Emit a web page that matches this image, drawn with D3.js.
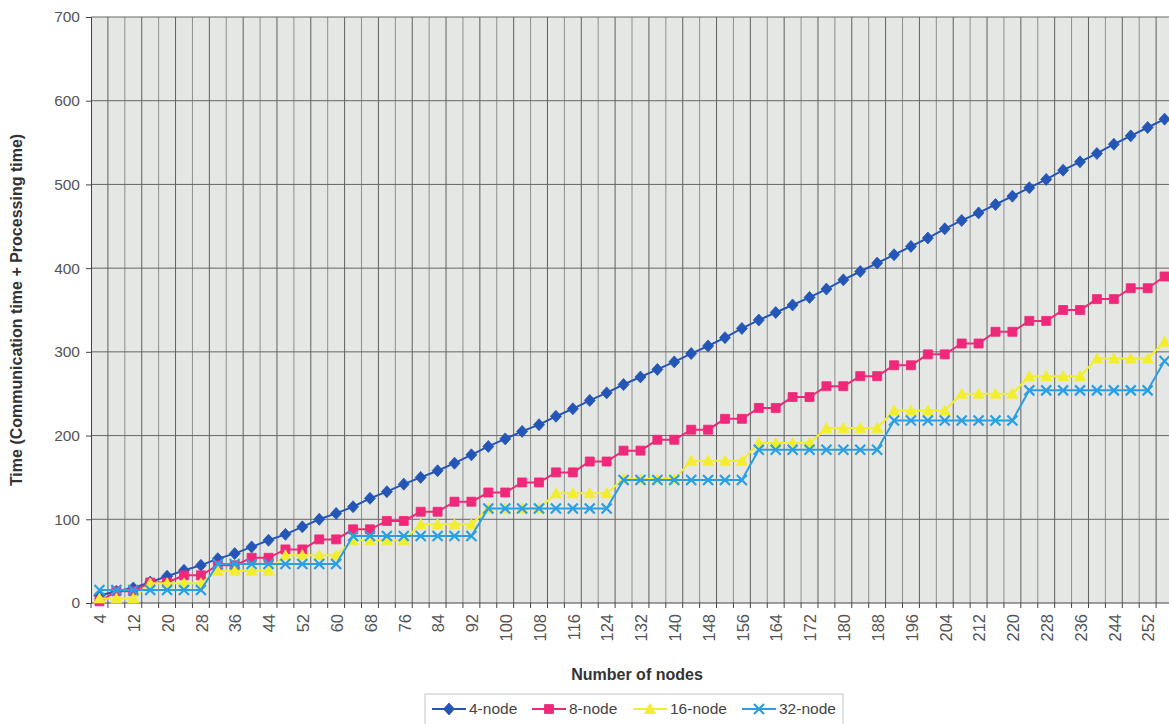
<!DOCTYPE html>
<html>
<head>
<meta charset="utf-8">
<script src="https://cdn.jsdelivr.net/npm/d3@7"></script>
<style>
  body { margin: 0; background: #fff; }
  svg { display: block; font-family: "Liberation Sans", Arial, sans-serif; }
</style>
</head>
<body>
<div id="chart"></div>
<script>
// Categories: number of nodes
const nodeCounts = d3.range(4, 257, 4);
const yTicks = [0, 100, 200, 300, 400, 500, 600, 700];

// Series values (one value per node count)
const node4 = [9, 14, 18, 25, 32, 39, 45, 53, 59, 67, 75, 82, 91, 100, 107, 115,
  125, 133, 142, 150, 158, 167, 177, 187, 196, 205, 213, 223, 232, 242, 251, 261,
  270, 279, 288, 298, 307, 317, 328, 338, 347, 356, 365, 375, 386, 396, 406, 416,
  426, 436, 447, 457, 466, 476, 486, 496, 506, 517, 527, 537, 548, 558, 568, 578];
const node8 = [2, 14, 14, 24.5, 24.5, 33, 33, 45, 45, 54, 54, 64, 64, 76, 76, 88,
  88, 98, 98, 109, 109, 121, 121, 132, 132, 144, 144, 156, 156, 169, 169, 182,
  182, 195, 195, 207, 207, 220, 220, 233, 233, 246, 246, 259, 259, 271, 271, 284,
  284, 297, 297, 310, 310, 324, 324, 337, 337, 350, 350, 363, 363, 376, 376, 390];
const node16 = [5.5, 5.5, 5.5, 23.5, 23.5, 23.5, 23.5, 38.5, 38.5, 38.5, 38.5, 57, 57, 57, 57, 75,
  75, 75, 75, 94, 94, 94, 94, 113, 113, 113, 113, 131, 131, 131, 131, 148,
  148, 148, 148, 170, 170, 170, 170, 191, 191, 191, 191, 209, 209, 209, 209, 230,
  230, 230, 230, 250, 250, 250, 250, 271, 271, 271, 271, 292, 292, 292, 292, 312];
const node32 = [15.5, 15.5, 15.5, 15.5, 15.5, 15.5, 15.5, 46.5, 46.5, 46.5, 46.5, 46.5, 46.5, 46.5, 46.5, 80,
  80, 80, 80, 80, 80, 80, 80, 113, 113, 113, 113, 113, 113, 113, 113, 147,
  147, 147, 147, 147, 147, 147, 147, 183, 183, 183, 183, 183, 183, 183, 183, 218,
  218, 218, 218, 218, 218, 218, 218, 254, 254, 254, 254, 254, 254, 254, 254, 289];

const seriesNames = ["4-node", "8-node", "16-node", "32-node"];
const seriesValues = [node4, node8, node16, node32];
const seriesColors = ["#2456b8", "#f0287a", "#f2ee2e", "#2a9fe4"];
const seriesMarkers = ["diamond", "square", "triangle", "cross"];

const W = 1169, H = 724;
const plot = { left: 91, right: 1173, top: 17, bottom: 603 };

const svg = d3.select("#chart").append("svg")
  .attr("width", W)
  .attr("height", H);

const x = d3.scaleBand()
  .domain(nodeCounts)
  .range([plot.left, plot.right])
  .padding(0);

const y = d3.scaleLinear()
  .domain([0, 700])
  .range([plot.bottom, plot.top]);

const cx = d => x(d) + x.bandwidth() / 2;

// plot background
svg.append("rect")
  .attr("x", plot.left)
  .attr("y", plot.top)
  .attr("width", plot.right - plot.left)
  .attr("height", plot.bottom - plot.top)
  .attr("fill", "#e5e7e4");

// vertical gridlines at category boundaries
const boundaries = nodeCounts.map(d => x(d)).concat([plot.right]);
svg.append("g")
  .selectAll("line")
  .data(boundaries.slice(1))
  .join("line")
    .attr("x1", d => d).attr("x2", d => d)
    .attr("y1", plot.top).attr("y2", plot.bottom)
    .attr("stroke", (d, i) => i % 2 === 0 ? "#5e5e5e" : "#8e8e8e")
    .attr("stroke-width", 1);

// horizontal gridlines
svg.append("g")
  .selectAll("line")
  .data(yTicks.slice(1))
  .join("line")
    .attr("x1", plot.left).attr("x2", plot.right)
    .attr("y1", d => y(d)).attr("y2", d => y(d))
    .attr("stroke", "#666")
    .attr("stroke-width", 1);

// Y axis
const yAxis = svg.append("g")
  .attr("transform", `translate(${plot.left},0)`)
  .call(d3.axisLeft(y).tickValues(yTicks).tickSize(5).tickPadding(6));
yAxis.select(".domain").attr("stroke", "#444");
yAxis.selectAll(".tick line").attr("stroke", "#444");
yAxis.selectAll(".tick text")
  .attr("font-size", 15.5)
  .attr("fill", "#555")
  .attr("font-family", "Liberation Sans, Arial, sans-serif");

// X axis line and ticks at boundaries
svg.append("line")
  .attr("x1", plot.left).attr("x2", plot.right)
  .attr("y1", plot.bottom).attr("y2", plot.bottom)
  .attr("stroke", "#444");
svg.append("g")
  .selectAll("line")
  .data(boundaries)
  .join("line")
    .attr("x1", d => d).attr("x2", d => d)
    .attr("y1", plot.bottom).attr("y2", plot.bottom + 5)
    .attr("stroke", "#444");

// X tick labels (every other category), rotated
svg.append("g")
  .selectAll("text")
  .data(nodeCounts.filter((d, i) => i % 2 === 0))
  .join("text")
    .attr("transform", d => `translate(${cx(d) + 1},${plot.bottom + 11}) rotate(-90)`)
    .attr("text-anchor", "end")
    .attr("dy", "0.35em")
    .attr("font-size", 16.5)
    .attr("fill", "#555")
    .text(d => d);

// axis titles
svg.append("text")
  .attr("x", 637)
  .attr("y", 680)
  .attr("text-anchor", "middle")
  .attr("font-size", 16)
  .attr("font-weight", "bold")
  .attr("fill", "#333")
  .text("Number of nodes");

svg.append("text")
  .attr("transform", `translate(22,${(plot.top + plot.bottom) / 2}) rotate(-90)`)
  .attr("text-anchor", "middle")
  .attr("font-size", 16)
  .attr("font-weight", "bold")
  .attr("fill", "#333")
  .text("Time (Communication time + Processing time)");

// marker shapes
function markerPath(kind) {
  if (kind === "diamond") return "M0,-6L5.5,0L0,6L-5.5,0Z";
  if (kind === "square") return "M-4.5,-4.5H4.5V4.5H-4.5Z";
  if (kind === "triangle") return "M0,-5.5L5.5,4.5H-5.5Z";
  return "M-5,-5L5,5M-5,5L5,-5";
}

function drawMarker(sel, kind, color) {
  sel.attr("d", markerPath(kind));
  if (kind === "cross") {
    sel.attr("fill", "none").attr("stroke", color).attr("stroke-width", 2.2);
  } else {
    sel.attr("fill", color).attr("stroke", color).attr("stroke-width", 0.8);
  }
}

// series
const line = d3.line().x(d => cx(d.n)).y(d => y(d.v));

seriesValues.forEach((vals, s) => {
  const pts = nodeCounts.map((n, i) => ({ n: n, v: vals[i] }));
  const g = svg.append("g");
  g.append("path")
    .datum(pts)
    .attr("d", line)
    .attr("fill", "none")
    .attr("stroke", seriesColors[s])
    .attr("stroke-width", 2);
  g.selectAll("path.mk")
    .data(pts)
    .join("path")
      .attr("class", "mk")
      .attr("transform", d => `translate(${cx(d.n)},${y(d.v)})`)
      .call(drawMarker, seriesMarkers[s], seriesColors[s]);
});

// legend
const legend = svg.append("g");
legend.append("rect")
  .attr("x", 425).attr("y", 694)
  .attr("width", 418).attr("height", 40)
  .attr("fill", "#fff")
  .attr("stroke", "#c4c4c4");

const legendX = [432, 532, 633, 742];
seriesNames.forEach((name, s) => {
  const lx = legendX[s];
  const ly = 709;
  legend.append("line")
    .attr("x1", lx).attr("x2", lx + 34)
    .attr("y1", ly).attr("y2", ly)
    .attr("stroke", seriesColors[s])
    .attr("stroke-width", 2);
  legend.append("path")
    .attr("transform", `translate(${lx + 17},${ly})`)
    .call(drawMarker, seriesMarkers[s], seriesColors[s]);
  legend.append("text")
    .attr("x", lx + 37)
    .attr("y", ly)
    .attr("dy", "0.35em")
    .attr("font-size", 15.5)
    .attr("fill", "#444")
    .text(name);
});
</script>
</body>
</html>
